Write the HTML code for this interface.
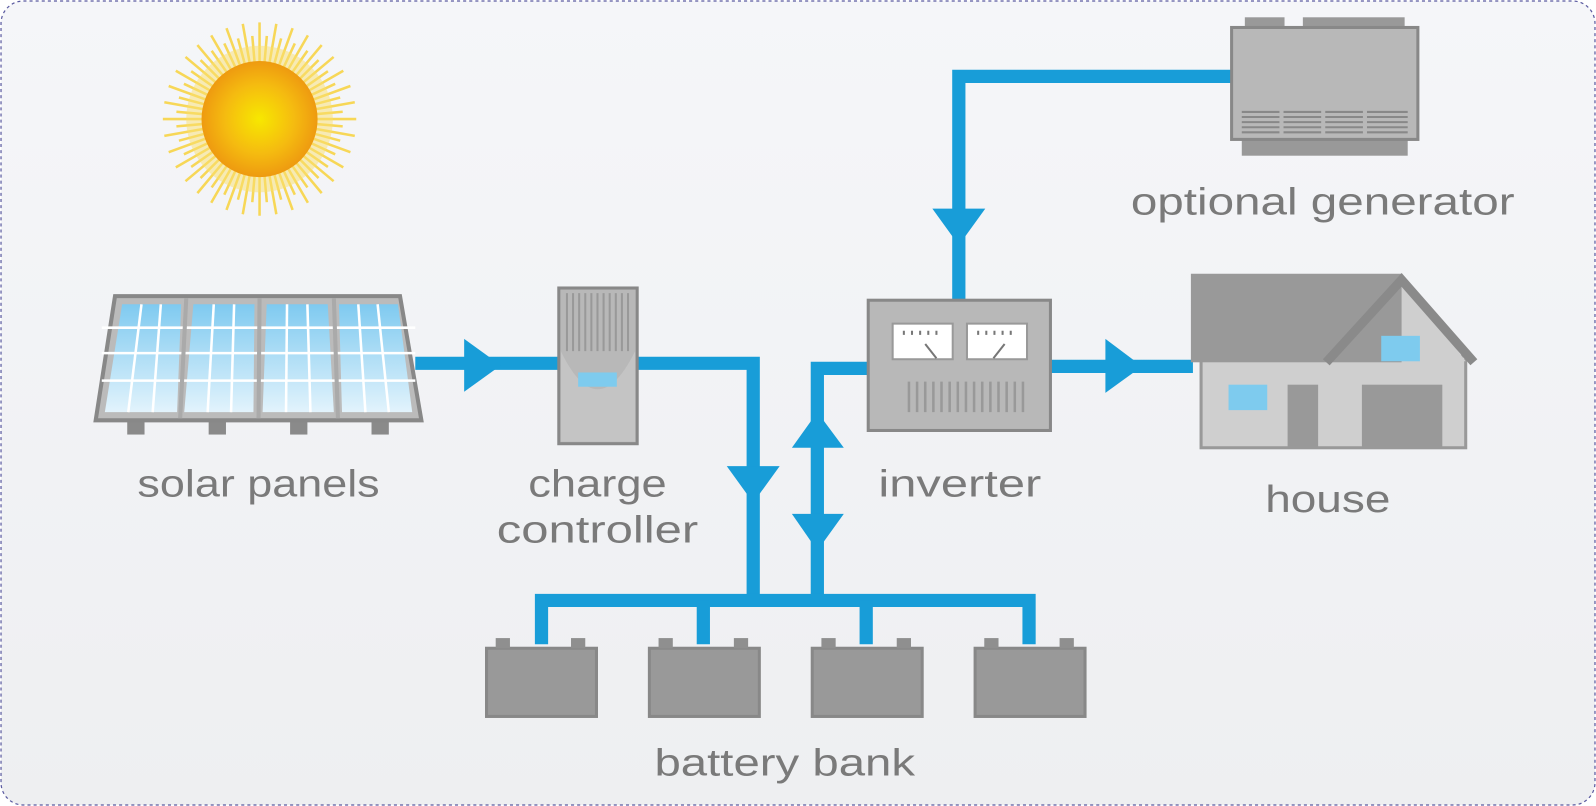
<!DOCTYPE html>
<html><head><meta charset="utf-8"><style>
html,body{margin:0;padding:0;background:#fff}
svg{display:block}
text{font-family:"Liberation Sans",sans-serif;fill:#7a7a7a;font-size:37px}
</style></head><body>
<svg width="1596" height="806" viewBox="0 0 1568 792" preserveAspectRatio="none" xmlns="http://www.w3.org/2000/svg">
<defs>
<linearGradient id="bg" x1="0" y1="0" x2="0" y2="1"><stop offset="0" stop-color="#f5f6f9"/><stop offset="1" stop-color="#eeeff1"/></linearGradient>
<radialGradient id="sun" cx="0.5" cy="0.5" r="0.5"><stop offset="0" stop-color="#f7e800"/><stop offset="0.6" stop-color="#f5bb10"/><stop offset="1" stop-color="#ee9a10"/></radialGradient>
<linearGradient id="cell" x1="0" y1="0" x2="0" y2="1"><stop offset="0" stop-color="#7fcaf0"/><stop offset="1" stop-color="#e2f3fc"/></linearGradient>
</defs>
<rect x="1" y="1" width="1566" height="790" rx="22" fill="url(#bg)" stroke="#5a5aa0" stroke-width="1.2" stroke-dasharray="3,3"/>
<!-- sun -->
<g transform="translate(255,117)">
<g stroke="#f8d020" stroke-width="2.2" opacity="0.85">
<script>/* none */</script>
</g>
<g id="rays"></g>
<circle r="72" fill="#fae070" opacity="0.5"/>
<circle r="57" fill="url(#sun)"/>
</g>
<!-- blue lines -->
<g stroke="#189dd8" stroke-width="13" fill="none" stroke-linejoin="miter">
<path d="M408 357 H549"/>
<path d="M626 357 H740 V590"/>
<path d="M853 362 H803 V590"/>
<path d="M532 633 V590 H1011 V633"/>
<path d="M691 590 V633 M851 590 V633"/>
<path d="M1210 75 H942 V295"/>
<path d="M1032 360 H1172"/>
</g>
<g fill="#189dd8">
<polygon points="456,333 492,359 456,385"/>
<polygon points="714,458 766,458 740,494"/>
<polygon points="778,440 829,440 803,405"/>
<polygon points="778,505 829,505 803,541"/>
<polygon points="916,205 968,205 942,241"/>
<polygon points="1086,333 1122,360 1086,386"/>
</g>
<!-- solar panel -->
<g>
<rect x="125" y="410" width="17" height="17" fill="#8a8a8a"/>
<rect x="205" y="410" width="17" height="17" fill="#8a8a8a"/>
<rect x="285" y="410" width="17" height="17" fill="#8a8a8a"/>
<rect x="365" y="410" width="17" height="17" fill="#8a8a8a"/>
<polygon points="113,291 393,291 414,413 94,413" fill="#bbb" stroke="#888" stroke-width="4"/>
<polygon points="120,299 178,299 174,405 103,405" fill="url(#cell)"/>
<polygon points="190,299 250,299 249,405 181,405" fill="url(#cell)"/>
<polygon points="262,299 322,299 328,405 258,405" fill="url(#cell)"/>
<polygon points="333,299 391,299 405,405 336,405" fill="url(#cell)"/>
<g stroke="#fff" stroke-width="2.5">
<line x1="100" y1="322" x2="408" y2="322"/><line x1="100" y1="347" x2="408" y2="347"/><line x1="100" y1="374" x2="408" y2="374"/>
<line x1="139" y1="299" x2="126" y2="405"/><line x1="158" y1="299" x2="150" y2="405"/>
<line x1="210" y1="299" x2="204" y2="405"/><line x1="230" y1="299" x2="227" y2="405"/>
<line x1="282" y1="299" x2="281" y2="405"/><line x1="302" y1="299" x2="305" y2="405"/>
<line x1="352" y1="299" x2="359" y2="405"/><line x1="371" y1="299" x2="382" y2="405"/>
</g>
<g stroke="#aaa" stroke-width="4"><line x1="183" y1="293" x2="177" y2="411"/><line x1="255" y1="293" x2="254" y2="411"/><line x1="328" y1="293" x2="332" y2="411"/></g>
</g>
<!-- charge controller -->
<rect x="549" y="283" width="77" height="153" fill="#b8b8b8" stroke="#888" stroke-width="3"/>
<g stroke="#999" stroke-width="2"><path d="M557 288V345M563 288V345M569 288V345M575 288V345M581 288V345M587 288V345M593 288V345M599 288V345M605 288V345M611 288V345M617 288V345"/></g>
<path d="M551 345 Q587 420 624 345 V434 H551Z" fill="#c4c4c4"/>
<rect x="568" y="366" width="38" height="14" fill="#7ecbee"/>
<!-- inverter -->
<rect x="853" y="295" width="179" height="128" fill="#b8b8b8" stroke="#888" stroke-width="3"/>
<rect x="877" y="318" width="59" height="35" fill="#fff" stroke="#999" stroke-width="2"/>
<rect x="950" y="318" width="59" height="35" fill="#fff" stroke="#999" stroke-width="2"/>
<g stroke="#777" stroke-width="2"><path d="M909 338 L920 352M987 338 L976 352"/><path d="M888 325v4M896 325v4M904 325v4M912 325v4M920 325v4M961 325v4M969 325v4M977 325v4M985 325v4M993 325v4"/></g>
<g stroke="#999" stroke-width="2.5"><path d="M893 375V405M901 375V405M909 375V405M917 375V405M925 375V405M933 375V405M941 375V405M949 375V405M957 375V405M965 375V405M973 375V405M981 375V405M989 375V405M997 375V405M1005 375V405"/></g>
<!-- generator -->
<rect x="1223" y="17" width="39" height="12" fill="#999"/>
<rect x="1280" y="17" width="100" height="12" fill="#999"/>
<rect x="1220" y="136" width="163" height="17" fill="#999"/>
<rect x="1210" y="27" width="183" height="110" fill="#b8b8b8" stroke="#888" stroke-width="3"/>
<g stroke="#888" stroke-width="2"><path d="M1220 110H1383M1220 115H1383M1220 120H1383M1220 125H1383M1220 130H1383"/></g>
<g stroke="#b8b8b8" stroke-width="4"><path d="M1259 108V132M1300 108V132M1341 108V132"/></g>
<!-- house -->
<rect x="1180" y="350" width="260" height="90" fill="#cfcfcf" stroke="#999" stroke-width="3"/>
<polygon points="1300,355 1377,272 1440,355" fill="#cfcfcf"/>
<rect x="1170" y="269" width="207" height="87" fill="#999"/>
<polyline points="1303,356 1377,275 1448,356" fill="none" stroke="#8a8a8a" stroke-width="9"/>
<rect x="1207" y="378" width="38" height="25" fill="#7ecbee"/>
<rect x="1357" y="330" width="38" height="25" fill="#7ecbee"/>
<rect x="1265" y="378" width="30" height="62" fill="#999"/>
<rect x="1338" y="378" width="79" height="62" fill="#999"/>
<!-- batteries -->
<g fill="#999" stroke="#888" stroke-width="3">
<rect x="478" y="637" width="108" height="67"/><rect x="638" y="637" width="108" height="67"/><rect x="798" y="637" width="108" height="67"/><rect x="958" y="637" width="108" height="67"/>
</g>
<g fill="#8f8f8f">
<rect x="487" y="627" width="14" height="10"/><rect x="561" y="627" width="14" height="10"/>
<rect x="647" y="627" width="14" height="10"/><rect x="721" y="627" width="14" height="10"/>
<rect x="807" y="627" width="14" height="10"/><rect x="881" y="627" width="14" height="10"/>
<rect x="967" y="627" width="14" height="10"/><rect x="1041" y="627" width="14" height="10"/>
</g>
<!-- labels -->
<text x="135" y="488" textLength="238" lengthAdjust="spacingAndGlyphs">solar panels</text>
<text x="519" y="488" textLength="136" lengthAdjust="spacingAndGlyphs">charge</text>
<text x="488" y="533" textLength="198" lengthAdjust="spacingAndGlyphs">controller</text>
<text x="863" y="488" textLength="160" lengthAdjust="spacingAndGlyphs">inverter</text>
<text x="1243" y="503" textLength="123" lengthAdjust="spacingAndGlyphs">house</text>
<text x="1111" y="211" textLength="377" lengthAdjust="spacingAndGlyphs">optional generator</text>
<text x="643" y="762" textLength="256" lengthAdjust="spacingAndGlyphs">battery bank</text>
</svg>
<script>
(function(){var g=document.getElementById('rays');var ns='http://www.w3.org/2000/svg';
for(var i=0;i<72;i++){var a=i*Math.PI/36,l=(i%2?82:95);var ln=document.createElementNS(ns,'line');
ln.setAttribute('x1',55*Math.cos(a));ln.setAttribute('y1',55*Math.sin(a));ln.setAttribute('x2',l*Math.cos(a));ln.setAttribute('y2',l*Math.sin(a));
ln.setAttribute('stroke','#f8d030');ln.setAttribute('stroke-width','2.5');ln.setAttribute('opacity','0.8');g.appendChild(ln);}})();
</script>
</body></html>
